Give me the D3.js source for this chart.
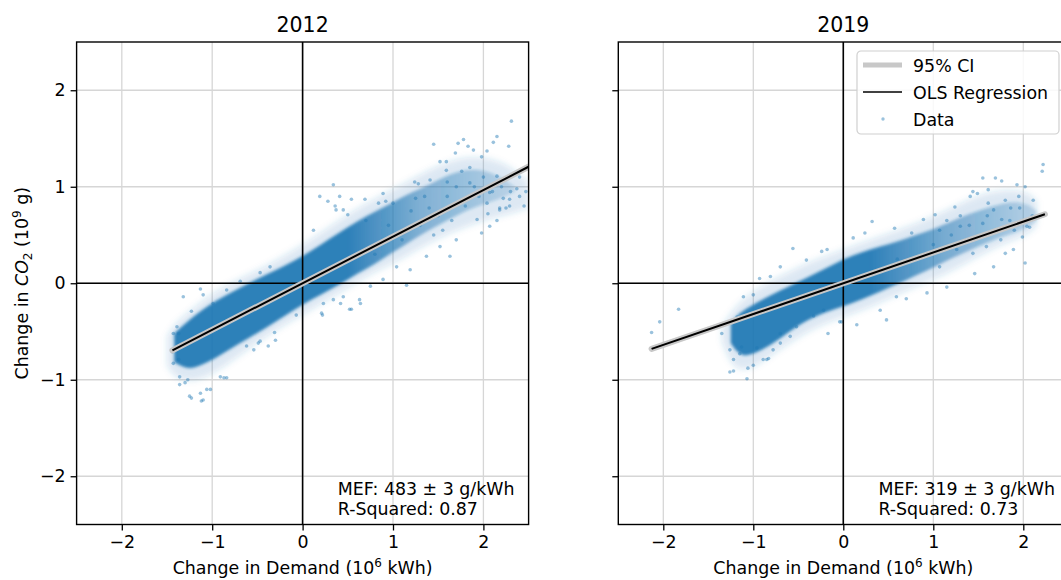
<!DOCTYPE html>
<html>
<head>
<meta charset="utf-8">
<script src="https://cdn.jsdelivr.net/npm/d3@7"></script>
<style>
  body { margin: 0; background: #fff; }
  text { font-family: "DejaVu Sans", sans-serif; fill: #000; }
</style>
</head>
<body>
<svg id="chart" width="1061" height="580"></svg>
<script>
// ---- data ----
const years = ["2012", "2019"];
const tickValues = [-2, -1, 0, 1, 2];
const mefLabels = ["MEF: 483 \u00b1 3 g/kWh", "MEF: 319 \u00b1 3 g/kWh"];
const rsqLabels = ["R-Squared: 0.87", "R-Squared: 0.73"];

// OLS fit end points [x, y]
const fit2012 = [[-1.44, -0.695], [2.6, 1.256]];
const fit2019 = [[-2.13, -0.68], [2.24, 0.715]];

// dense part of the point cloud: [x, low, high]
const core2012 = [
  [-1.42, -0.82, -0.52], [-1.3, -0.88, -0.42], [-1.2, -0.88, -0.34], [-1.0, -0.80, -0.20],
  [-0.8, -0.68, -0.10], [-0.6, -0.57, 0.00], [-0.4, -0.46, 0.09], [-0.2, -0.34, 0.18],
  [0.0, -0.22, 0.28], [0.2, -0.12, 0.40], [0.4, -0.02, 0.52], [0.6, 0.10, 0.64],
  [0.8, 0.20, 0.74], [1.0, 0.32, 0.84], [1.2, 0.44, 0.94], [1.4, 0.55, 1.02],
  [1.6, 0.65, 1.12], [1.8, 0.75, 1.18], [2.0, 0.82, 1.18], [2.2, 0.88, 1.10], [2.35, 0.95, 1.0]
];
const halo2012 = [
  [-1.5, -0.85, -0.55], [-1.4, -1.0, -0.40], [-1.2, -1.02, -0.25], [-1.0, -0.95, -0.10],
  [-0.7, -0.75, 0.05], [-0.4, -0.55, 0.18], [-0.1, -0.38, 0.34], [0.2, -0.22, 0.52],
  [0.5, -0.05, 0.72], [0.8, 0.12, 0.88], [1.1, 0.25, 1.02], [1.4, 0.42, 1.18],
  [1.7, 0.55, 1.30], [2.0, 0.65, 1.32], [2.3, 0.72, 1.22], [2.5, 0.78, 1.05]
];
const core2019 = [
  [-1.25, -0.62, -0.42], [-1.15, -0.76, -0.30], [-1.0, -0.74, -0.22], [-0.8, -0.64, -0.12],
  [-0.6, -0.50, -0.03], [-0.4, -0.38, 0.06], [-0.2, -0.30, 0.15], [0.0, -0.24, 0.25],
  [0.2, -0.17, 0.32], [0.4, -0.09, 0.38], [0.6, -0.01, 0.43], [0.8, 0.08, 0.50],
  [1.0, 0.16, 0.56], [1.2, 0.26, 0.64], [1.4, 0.34, 0.72], [1.6, 0.42, 0.78],
  [1.75, 0.48, 0.82], [1.9, 0.52, 0.85], [2.05, 0.58, 0.82], [2.15, 0.65, 0.75]
];
const halo2019 = [
  [-1.35, -0.60, -0.45], [-1.25, -0.85, -0.30], [-1.1, -0.92, -0.15], [-0.9, -0.82, -0.02],
  [-0.6, -0.62, 0.12], [-0.3, -0.45, 0.25], [0.0, -0.35, 0.35], [0.3, -0.25, 0.45],
  [0.6, -0.12, 0.55], [0.9, 0.0, 0.65], [1.2, 0.12, 0.78], [1.5, 0.28, 0.92],
  [1.8, 0.42, 0.98], [2.05, 0.50, 0.95], [2.15, 0.60, 0.85]
];

// loose points around the cloud [x, y]
const pts2012 = [
  [-1.32, -0.14], [-1.13, -0.06], [-1.10, -0.12], [-1.43, -0.52], [-1.36, -0.97], [-1.30, -1.03],
  [-1.25, -1.17], [-1.13, -1.14], [-1.10, -1.21], [-1.02, -1.10], [-0.91, -0.97], [-0.84, -0.98],
  [-0.62, -0.65], [-0.47, -0.60], [-0.38, -0.65], [-0.31, -0.51], [-0.07, -0.33], [0.21, -0.31],
  [0.23, -0.21], [0.19, 0.90], [0.34, 1.02], [0.28, 0.85], [0.12, 0.55], [-0.36, 0.17],
  [-0.47, 0.11], [-0.69, 0.02], [-0.84, -0.07], [-0.99, -0.21], [-1.23, -0.29], [-1.39, -0.45],
  [-1.43, -0.83], [-1.37, -0.79], [1.45, 1.44], [1.72, 1.45], [1.78, 1.49], [1.83, 1.42],
  [2.04, 1.37], [2.11, 1.46], [2.31, 1.68], [1.52, 1.26], [1.59, 1.26], [1.69, 1.35],
  [1.89, 1.38], [1.98, 1.31], [1.41, 1.07], [1.24, 1.05], [1.28, 1.03], [0.89, 0.93],
  [0.84, 0.83], [0.69, 0.87], [0.54, 0.87], [0.41, 0.90], [0.36, 0.80], [0.37, 0.76],
  [0.45, 0.76], [0.50, 0.71], [2.15, 1.11], [2.22, 0.88], [2.29, 0.87], [2.29, 0.80],
  [2.18, 0.76], [2.04, 0.83], [1.98, 0.52], [2.07, 0.59], [1.93, 0.66], [1.70, 0.45],
  [1.63, 0.28], [1.52, 0.38], [1.37, 0.28], [1.19, 0.14], [1.15, -0.02], [1.04, 0.17],
  [0.89, 0.04], [0.75, -0.03], [0.63, -0.17], [0.52, -0.27], [0.45, -0.14], [0.34, -0.17],
  [2.07, 0.94], [1.85, 1.04], [1.76, 1.16], [1.59, 1.17], [2.15, 1.52], [2.28, 1.42],
  [2.37, 1.14], [2.47, 0.95], [2.37, 0.98], [2.18, 0.78], [2.25, 0.78], [1.0, 0.83],
  [0.92, 0.85], [-1.23, -1.19], [-1.12, -1.22], [-1.06, -1.10], [-1.36, -1.05], [-1.27, -1.0],
  [-0.87, -0.98], [-0.49, -0.62], [-0.54, -0.69], [0.22, -0.33], [0.54, -0.27], [0.64, -0.21],
  [0.42, -0.21], [-0.30, -0.59], [-1.37, -0.52], [-1.44, -0.71], [1.1, 0.45], [1.3, 0.6],
  [1.5, 0.7], [1.6, 0.9], [1.8, 0.8], [1.9, 1.0], [2.0, 1.1], [2.1, 0.95], [2.2, 1.0],
  [2.4, 1.1], [2.45, 0.8], [1.7, 1.0], [1.55, 0.55], [1.35, 0.9], [1.2, 0.75], [0.95, 0.6],
  [0.8, 0.3], [0.7, 0.65], [1.45, 0.5], [1.65, 0.65], [1.75, 0.85], [1.95, 0.9], [2.05, 0.72],
  [2.15, 0.65], [2.3, 0.95], [2.4, 0.9], [1.85, 1.2], [1.6, 1.05], [1.4, 0.78], [1.25, 0.88]
];
const pts2019 = [
  [-2.13, -0.51], [-2.04, -0.40], [-1.83, -0.27], [-0.56, 0.36], [-1.35, -0.52], [-1.28, -0.41],
  [-1.26, -0.69], [-1.22, -0.79], [-1.26, -0.92], [-1.22, -0.91], [-1.07, -0.99], [-1.06, -0.88],
  [-0.89, -0.79], [-0.83, -0.78], [-1.15, -0.73], [-1.13, -0.66], [-1.18, -0.35], [-1.11, -0.14],
  [-1.0, -0.12], [-0.93, 0.05], [-0.81, 0.07], [-0.70, 0.17], [-0.41, 0.24], [-0.24, 0.33],
  [-0.18, 0.35], [-0.17, -0.52], [-0.04, -0.40], [-0.59, -0.55], [-0.70, -0.62], [-0.52, -0.45],
  [-0.33, -0.34], [-0.78, -0.69], [-0.96, -0.67], [-1.0, -0.85], [-0.85, -0.79], [0.15, -0.43],
  [0.48, -0.38], [-0.02, -0.40], [0.93, -0.10], [0.70, -0.16], [0.59, -0.14], [0.41, -0.28],
  [-0.70, -0.52], [-0.22, -0.28], [2.22, 1.23], [2.21, 1.16], [1.55, 1.09], [1.69, 1.09],
  [1.76, 1.06], [1.93, 1.02], [2.02, 1.0], [2.11, 0.86], [1.96, 0.78], [2.07, 0.58],
  [1.99, 0.48], [2.02, 0.21], [1.89, 0.35], [1.80, 0.31], [1.67, 0.17], [1.46, 0.10],
  [1.15, -0.04], [0.32, 0.64], [0.57, 0.57], [1.02, 0.71], [0.89, 0.66], [1.24, 0.79],
  [1.41, 0.90], [1.44, 0.95], [1.49, 0.93], [1.61, 0.97], [1.61, 0.83], [1.67, 0.76],
  [1.80, 0.86], [1.86, 0.78], [1.76, 0.66], [0.11, 0.47], [0.24, 0.52], [0.76, 0.52],
  [1.07, 0.55], [1.30, 0.59], [1.37, 0.45], [1.50, 0.48], [1.59, 0.38], [1.26, 0.35],
  [1.07, 0.17], [1.44, 0.31], [2.04, 0.59], [1.3, 0.7], [1.55, 0.62], [1.7, 0.55],
  [1.85, 0.65], [1.95, 0.9], [1.2, 0.5], [1.0, 0.4], [0.8, 0.25], [1.6, 0.7], [1.75, 0.45],
  [1.9, 0.55], [2.1, 0.7], [1.4, 0.6], [1.15, 0.65], [0.9, 0.3], [0.6, 0.25]
];

// fade stops of the cloud along x: [x, opacity]
const fade2012 = [[0.5, 0.92], [1.3, 0.5], [2.3, 0.2]];
const fade2019 = [[0.3, 0.92], [1.1, 0.55], [2.1, 0.22]];

const panels = [
  { year: years[0], core: core2012, halo: halo2012, pts: pts2012, fit: fit2012, fade: fade2012, mef: mefLabels[0], rsq: rsqLabels[0], left: 76.6, right: 528.6, yLabels: true },
  { year: years[1], core: core2019, halo: halo2019, pts: pts2019, fit: fit2019, fade: fade2019, mef: mefLabels[1], rsq: rsqLabels[1], left: 618.3, right: 1068.3, yLabels: false }
];

const yTop = 42, yBottom = 524.5;
const blue = "#1f77b4";
const svg = d3.select("#chart");
const defs = svg.append("defs");
defs.append("filter").attr("id", "soft")
  .append("feGaussianBlur").attr("stdDeviation", 1.6);
defs.append("filter").attr("id", "softer")
  .append("feGaussianBlur").attr("stdDeviation", 3);

panels.forEach((p, i) => {
  const x = d3.scaleLinear().domain([-2.5, 2.5]).range([p.left, p.right]);
  const y = d3.scaleLinear().domain([-2.5, 2.5]).range([yBottom, yTop]);
  const g = svg.append("g");

  defs.append("clipPath").attr("id", "clip" + i)
    .append("rect").attr("x", p.left).attr("y", yTop)
    .attr("width", p.right - p.left).attr("height", yBottom - yTop);

  // fade of the dense cloud towards the sparse upper end
  const x0 = x(p.fade[0][0]), x1 = x(p.fade[p.fade.length - 1][0]);
  const grad = defs.append("linearGradient").attr("id", "fade" + i)
    .attr("gradientUnits", "userSpaceOnUse")
    .attr("x1", x0).attr("x2", x1).attr("y1", 0).attr("y2", 0);
  grad.selectAll("stop").data(p.fade).join("stop")
    .attr("offset", d => (x(d[0]) - x0) / (x1 - x0))
    .attr("stop-color", blue).attr("stop-opacity", d => d[1]);

  // grid
  g.append("g").selectAll("line").data(tickValues).join("line")
    .attr("x1", d => x(d)).attr("x2", d => x(d)).attr("y1", yTop).attr("y2", yBottom)
    .attr("stroke", "#d6d6d6").attr("stroke-width", 1.3);
  g.append("g").selectAll("line").data(tickValues).join("line")
    .attr("y1", d => y(d)).attr("y2", d => y(d)).attr("x1", p.left).attr("x2", p.right)
    .attr("stroke", "#d6d6d6").attr("stroke-width", 1.3);

  const plot = g.append("g").attr("clip-path", `url(#clip${i})`);

  const area = d3.area().x(d => x(d[0])).y0(d => y(d[1])).y1(d => y(d[2])).curve(d3.curveBasis);
  plot.append("path").datum(p.halo).attr("d", area)
    .attr("fill", blue).attr("fill-opacity", 0.16).attr("filter", "url(#softer)");
  plot.append("path").datum(p.core).attr("d", area)
    .attr("fill", `url(#fade${i})`).attr("filter", "url(#soft)");

  plot.append("g").selectAll("circle").data(p.pts).join("circle")
    .attr("cx", d => x(d[0])).attr("cy", d => y(d[1])).attr("r", 1.8)
    .attr("fill", blue).attr("fill-opacity", 0.45);

  // zero lines
  plot.append("line").attr("x1", x(0)).attr("x2", x(0)).attr("y1", yTop).attr("y2", yBottom)
    .attr("stroke", "#000").attr("stroke-width", 1.6);
  plot.append("line").attr("y1", y(0)).attr("y2", y(0)).attr("x1", p.left).attr("x2", p.right)
    .attr("stroke", "#000").attr("stroke-width", 1.6);

  // regression + CI
  const line = d3.line().x(d => x(d[0])).y(d => y(d[1]));
  plot.append("path").datum(p.fit).attr("d", line)
    .attr("stroke", "#c8c8c8").attr("stroke-width", 6).attr("stroke-linecap", "round").attr("fill", "none");
  plot.append("path").datum(p.fit).attr("d", line)
    .attr("stroke", "#000").attr("stroke-width", 2).attr("fill", "none");

  // frame
  g.append("rect").attr("x", p.left).attr("y", yTop)
    .attr("width", p.right - p.left).attr("height", yBottom - yTop)
    .attr("fill", "none").attr("stroke", "#000").attr("stroke-width", 1.4);

  // axes
  const xAxis = d3.axisBottom(x).tickValues(tickValues).tickSize(6).tickPadding(5)
    .tickFormat(d => d < 0 ? "\u2212" + Math.abs(d) : d);
  const xa = g.append("g").attr("transform", `translate(0,${yBottom})`).call(xAxis);
  xa.select(".domain").remove();
  xa.selectAll("line").attr("stroke", "#000").attr("stroke-width", 1.3);
  xa.selectAll("text").attr("font-size", 17.4).attr("font-family", "DejaVu Sans");

  const yAxis = d3.axisLeft(y).tickValues(tickValues).tickSize(6).tickPadding(5)
    .tickFormat(d => p.yLabels ? (d < 0 ? "\u2212" + Math.abs(d) : d) : "");
  const ya = g.append("g").attr("transform", `translate(${p.left},0)`).call(yAxis);
  ya.select(".domain").remove();
  ya.selectAll("line").attr("stroke", "#000").attr("stroke-width", 1.3);
  ya.selectAll("text").attr("font-size", 17.4).attr("font-family", "DejaVu Sans");

  // title and labels
  const cx = x(0);
  g.append("text").attr("x", cx).attr("y", 32).attr("text-anchor", "middle")
    .attr("font-size", 20.5).text(p.year);

  const xl = g.append("text").attr("x", cx).attr("y", 574).attr("text-anchor", "middle").attr("font-size", 17.4);
  xl.append("tspan").text("Change in Demand (10");
  xl.append("tspan").attr("font-size", 12).attr("dy", -7).text("6");
  xl.append("tspan").attr("dy", 7).text(" kWh)");

  const ax = x(0.39);
  g.append("text").attr("x", ax).attr("y", 495).attr("font-size", 17.4).text(p.mef);
  g.append("text").attr("x", ax).attr("y", 515).attr("font-size", 17.4).text(p.rsq);
});

// y label
const yl = svg.append("text").attr("transform", `translate(28,${(yTop + yBottom) / 2}) rotate(-90)`)
  .attr("text-anchor", "middle").attr("font-size", 17.4);
yl.append("tspan").text("Change in ");
yl.append("tspan").attr("font-style", "italic").text("CO");
yl.append("tspan").attr("font-size", 12).attr("dy", 4).text("2");
yl.append("tspan").attr("dy", -4).text(" (10");
yl.append("tspan").attr("font-size", 12).attr("dy", -7).text("9");
yl.append("tspan").attr("dy", 7).text(" g)");

// legend (right panel)
const lg = svg.append("g").attr("transform", "translate(857,51)");
lg.append("rect").attr("width", 202).attr("height", 83).attr("rx", 4)
  .attr("fill", "#fff").attr("fill-opacity", 0.85).attr("stroke", "#d0d0d0").attr("stroke-width", 1.2);
const legendItems = ["95% CI", "OLS Regression", "Data"];
legendItems.forEach((t, k) => {
  const cy = 14 + k * 27;
  if (k === 0) lg.append("line").attr("x1", 6).attr("x2", 45).attr("y1", cy).attr("y2", cy)
    .attr("stroke", "#c8c8c8").attr("stroke-width", 5);
  if (k === 1) lg.append("line").attr("x1", 6).attr("x2", 45).attr("y1", cy).attr("y2", cy)
    .attr("stroke", "#000").attr("stroke-width", 1.6);
  if (k === 2) lg.append("circle").attr("cx", 26).attr("cy", cy).attr("r", 1.7)
    .attr("fill", blue).attr("fill-opacity", 0.45);
  lg.append("text").attr("x", 56).attr("y", cy + 6.5).attr("font-size", 17.4).text(t);
});
</script>
</body>
</html>
